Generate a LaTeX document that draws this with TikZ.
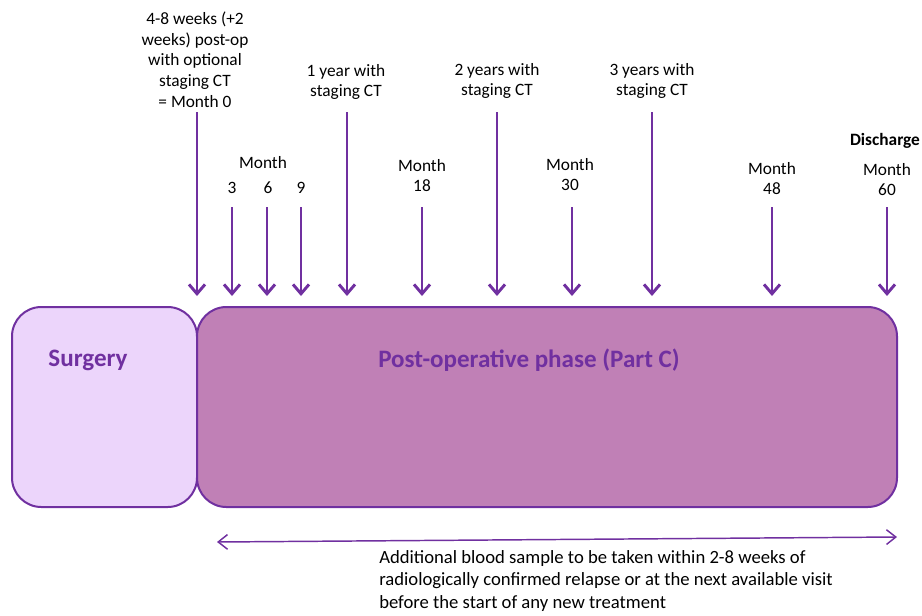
\documentclass[tikz,border=0pt]{standalone}
\usepackage{fontspec}
\setmainfont{Carlito}
\usetikzlibrary{arrows.meta}
\definecolor{pdark}{HTML}{7030A0}
\definecolor{plight}{HTML}{ECD5FB}
\definecolor{pmid}{HTML}{C080B6}
\tikzset{
  phase/.style={draw=pdark, line width=1.5pt, rounded corners=22pt},
  phaselabel/.style={text=pdark, font=\fontsize{18.8}{22}\selectfont\bfseries},
  lbl/.style={align=center, inner sep=0pt, font=\fontsize{13}{15.5}\selectfont},
  visit/.style={draw=pdark, line width=2.2pt, -{Straight Barb[length=7pt,width=12pt]}},
  span/.style={draw=pdark, line width=1.1pt, {Straight Barb[length=7pt,width=11pt]}-{Straight Barb[length=7pt,width=11pt]}},
}
\begin{document}
\begin{tikzpicture}[x=0.75pt,y=-0.75pt]
\useasboundingbox (0,0) rectangle (922,615);
% phases
\draw[phase, fill=plight] (12,307) rectangle (197,507);
\draw[phase, fill=pmid] (197,307) rectangle (897,507);
\node[phaselabel] (surg) at (88,360) {Surgery};
\node[phaselabel] (post) at (529,360) {Post-operative phase (Part C)};
% labels
\node[lbl] (l0) at (195,59.5) {4-8 weeks (+2\\weeks) post-op\\with optional\\staging CT\\= Month 0};
\node[lbl] (lm) at (263,163) {Month};
\node[lbl] (l3) at (232,188) {3};
\node[lbl] (l6) at (268,188) {6};
\node[lbl] (l9) at (301,188) {9};
\node[lbl] (l1y) at (346,82) {1 year with\\staging CT};
\node[lbl] (l18) at (422,175.5) {Month\\18};
\node[lbl] (l2y) at (497,81) {2 years with\\staging CT};
\node[lbl] (l30) at (570,174.5) {Month\\30};
\node[lbl] (l3y) at (652,81) {3 years with\\staging CT};
\node[lbl] (l48) at (772,178.5) {Month\\48};
\node[lbl, font=\fontsize{13}{15.5}\selectfont\bfseries] (dis) at (885,141) {Discharge};
\node[lbl] (l60) at (887,179.5) {Month\\60};
% arrow ends
\foreach \n/\x/\y in {0/197/112, 3/232/207, 6/267/207, 9/301/207, 1y/347/112, 18/422/207, 2y/497/112, 30/572/207, 3y/652/112, 48/772/207, 60/887/207}{
  \coordinate (s\n) at (\x,\y);
  \coordinate (e\n) at (\x,296);
}
\foreach \n in {0,3,6,9,1y,18,2y,30,3y,48,60}{
  \draw[visit] (s\n) -- (e\n);
}
% span arrow
\coordinate (bl) at (217,542);
\coordinate (br) at (897,537);
\draw[span] (bl) -- (br);
\node[lbl, align=left, anchor=north west, font=\fontsize{14}{16.9}\selectfont] (note) at (379,550) {Additional blood sample to be taken within 2-8 weeks of\\radiologically confirmed relapse or at the next available visit\\before the start of any new treatment};
\end{tikzpicture}
\end{document}
